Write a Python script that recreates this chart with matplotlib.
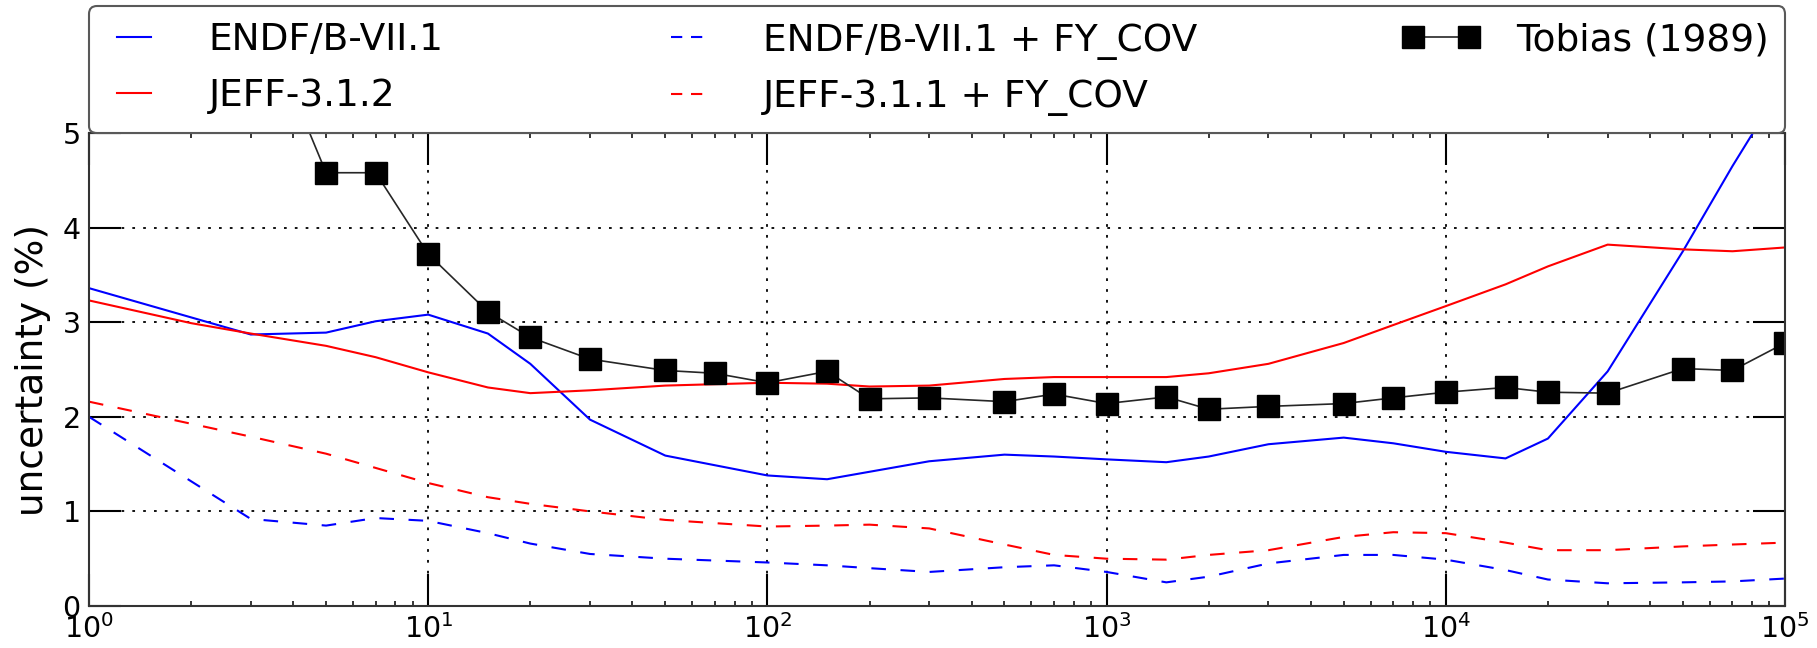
#!/usr/bin/env python3

# Uncertainty vs. time: nuclear data libraries compared with Tobias (1989).

import matplotlib
matplotlib.use("Agg")
import matplotlib.pyplot as plt
from matplotlib.legend_handler import HandlerLine2D

# ENDF/B-VII.1 (solid blue)
endf_x = [1, 3, 5, 7, 10, 15, 20, 30, 50, 100, 150, 300, 500, 700, 1000,
          1500, 2000, 3000, 5000, 7000, 1e4, 1.5e4, 2e4, 3e4, 5e4, 7e4, 1e5]
endf_y = [3.36, 2.87, 2.89, 3.01, 3.08, 2.88, 2.56, 1.97, 1.59, 1.38, 1.34,
          1.53, 1.60, 1.58, 1.55, 1.52, 1.58, 1.71, 1.78, 1.72, 1.63, 1.56,
          1.77, 2.48, 3.75, 4.65, 5.55]

# JEFF-3.1.2 (solid red)
jeff_x = [1, 2, 3, 5, 7, 10, 15, 20, 30, 50, 100, 150, 200, 300, 500, 700,
          1000, 1500, 2000, 3000, 5000, 7000, 1e4, 1.5e4, 2e4, 3e4, 5e4, 7e4,
          1e5]
jeff_y = [3.23, 2.99, 2.88, 2.75, 2.63, 2.47, 2.31, 2.25, 2.28, 2.33, 2.36,
          2.35, 2.32, 2.33, 2.40, 2.42, 2.42, 2.42, 2.46, 2.56, 2.78, 2.97,
          3.17, 3.40, 3.59, 3.82, 3.77, 3.75, 3.79]

# ENDF/B-VII.1 + FY_COV (dashed blue)
endf_cov_x = [1, 3, 5, 7, 10, 15, 20, 30, 50, 100, 150, 200, 300, 500, 700,
              1000, 1500, 2000, 3000, 5000, 7000, 1e4, 1.5e4, 2e4, 3e4, 5e4,
              7e4, 1e5]
endf_cov_y = [2.00, 0.92, 0.85, 0.93, 0.90, 0.77, 0.66, 0.55, 0.50, 0.46,
              0.43, 0.40, 0.36, 0.41, 0.43, 0.36, 0.25, 0.31, 0.45, 0.54,
              0.54, 0.49, 0.38, 0.28, 0.24, 0.25, 0.26, 0.29]

# JEFF-3.1.1 + FY_COV (dashed red)
jeff_cov_x = [1, 3, 5, 10, 15, 20, 30, 50, 100, 150, 200, 300, 500, 700, 1000,
              1500, 2000, 3000, 5000, 7000, 1e4, 1.5e4, 2e4, 3e4, 5e4, 7e4,
              1e5]
jeff_cov_y = [2.16, 1.79, 1.61, 1.30, 1.15, 1.08, 1.00, 0.91, 0.84, 0.85,
              0.86, 0.82, 0.65, 0.54, 0.50, 0.49, 0.54, 0.59, 0.73, 0.78,
              0.77, 0.67, 0.59, 0.59, 0.63, 0.65, 0.67]

# Tobias (1989) measurement
tobias_x = [3, 5, 7, 10, 15, 20, 30, 50, 70, 100, 150, 200, 300, 500, 700,
            1000, 1500, 2000, 3000, 5000, 7000, 1e4, 1.5e4, 2e4, 3e4, 5e4,
            7e4, 1e5]
tobias_y = [6.5, 4.58, 4.58, 3.72, 3.11, 2.84, 2.61, 2.49, 2.46, 2.36, 2.48,
            2.19, 2.20, 2.16, 2.24, 2.14, 2.21, 2.08, 2.11, 2.14, 2.20, 2.26,
            2.31, 2.26, 2.25, 2.51, 2.49, 2.78]

yticks = [0, 1, 2, 3, 4, 5]

LEG_FS = 27          # legend font size (pt)
LEG_HEIGHT = 127     # target legend height (px)
ROW_GAP = 56         # target distance between legend rows (px)


def dashed_handle(legline, orig):
    legline.update_from(orig)
    # legend handles get the linewidth scaling applied twice here
    legline.set_linestyle((0, (5.4, 4.2)))


def make_legend(ax, tobias_line, dashed_lines, labelspacing, borderpad):
    hmap = {tobias_line: HandlerLine2D(marker_pad=0)}
    for ln in dashed_lines:
        hmap[ln] = HandlerLine2D(update_func=dashed_handle)
    leg = ax.legend(loc="lower left", bbox_to_anchor=(0, 1, 1, 0.3),
                    mode="expand", ncol=3, borderaxespad=0, fontsize=LEG_FS,
                    handlelength=1.5, handletextpad=1.25,
                    labelspacing=labelspacing, borderpad=borderpad,
                    fancybox=True, framealpha=1, numpoints=2,
                    handler_map=hmap)
    leg.get_frame().set_edgecolor("0.35")
    leg.get_frame().set_linewidth(1.5)
    return leg


def main():
    plt.rcParams["font.family"] = ["DejaVu Sans"]
    fig = plt.figure(figsize=(18.17, 6.48), dpi=100)
    ax = fig.add_subplot(111)
    fig.subplots_adjust(left=89 / 1817, right=1785 / 1817,
                        bottom=42 / 648, top=515 / 648)

    dash = (0, (7, 7))
    ax.plot(endf_x, endf_y, color="b", lw=1.5, label="ENDF/B-VII.1")
    ax.plot(jeff_x, jeff_y, color="r", lw=1.5, label="JEFF-3.1.2")
    (d1,) = ax.plot(endf_cov_x, endf_cov_y, color="b", lw=1.5,
                    linestyle=dash, label="ENDF/B-VII.1 + FY_COV")
    (d2,) = ax.plot(jeff_cov_x, jeff_cov_y, color="r", lw=1.5,
                    linestyle=dash, label="JEFF-3.1.1 + FY_COV")
    (tob,) = ax.plot(tobias_x, tobias_y, "s-", color="0.15", lw=1.2,
                     ms=15.5, mec="k", mfc="k", label="Tobias (1989)")

    ax.set_xscale("log")
    ax.set_xlim(1, 1e5)
    ax.set_ylim(0, 5)
    ax.set_yticks(yticks)
    ax.set_ylabel("uncertainty (%)", fontsize=27, labelpad=8)

    ax.grid(True, which="major", color="k",
            linestyle=(0, (1.5, 4.5)), linewidth=1.3)
    ax.tick_params(which="major", direction="in", length=23, width=1.5,
                   top=True, right=True, labelsize=20.5, pad=6)
    ax.tick_params(which="minor", direction="in", length=3.5, width=1.1,
                   top=True, right=True)
    for sp in ax.spines.values():
        sp.set_linewidth(1.5)
        sp.set_color("0.2")

    # fit legend rows and height to the reference layout
    fs_px = LEG_FS * fig.dpi / 72.0
    ls, bp = 0.3, 0.36
    for _ in range(3):
        leg = make_legend(ax, tob, [d1, d2], ls, bp)
        fig.canvas.draw()
        r = fig.canvas.get_renderer()
        texts = leg.get_texts()
        gap = (texts[0].get_window_extent(r).y0
               - texts[1].get_window_extent(r).y0)
        ls += (ROW_GAP - gap) / fs_px
        height = leg.get_window_extent(r).height
        bp += (LEG_HEIGHT - height) / (2 * fs_px)
        leg.remove()
    make_legend(ax, tob, [d1, d2], ls, max(bp, 0.05))

    fig.savefig("out.png", dpi=100)
    plt.close(fig)


if __name__ == "__main__":
    main()
